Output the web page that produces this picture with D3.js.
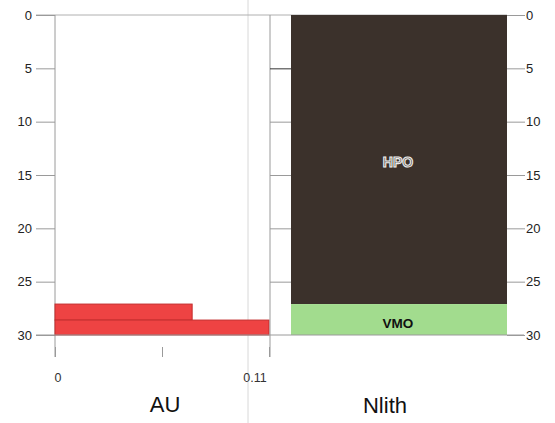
<!DOCTYPE html>
<html><head><meta charset="utf-8">
<script src="https://cdn.jsdelivr.net/npm/d3@7"></script>
<style>body{margin:0;background:#fff}svg{display:block}</style>
</head><body>
<script>
// Data
const depthTicks = [0, 5, 10, 15, 20, 25, 30];
const auTickLabels = ["0", "0.11"];
const auTicks = [0, 0.055, 0.11];
// AU bars: depth intervals and values
const auTop = [27.1, 28.6];
const auBottom = [28.6, 30];
const auValue = [0.0705, 0.11];
// Lithology intervals
const lithNames = ["HPO", "VMO"];
const lithTop = [0, 27.1];
const lithBottom = [27.1, 30];
const lithColors = ["#3b312b", "#a2dc8e"];

const W = 555, H = 423;
const svg = d3.select("body").append("svg").attr("width", W).attr("height", H);

const y = d3.scaleLinear().domain([0, 30]).range([15, 335]);
const xAU = d3.scaleLinear().domain([0, 0.11]).range([55, 269]);
const xL0 = 291, xL1 = 507;

const grey = "#9a9a9a";
// scanning artifact line
svg.append("line").attr("x1", 248).attr("x2", 248).attr("y1", 0).attr("y2", H)
  .attr("stroke", "#d8d8d8").attr("stroke-width", 1);

// top frame line
svg.append("line").attr("x1", 36).attr("x2", xL1).attr("y1", y(0)).attr("y2", y(0))
  .attr("stroke", "#b0b0b0");
// left axis
const gL = svg.append("g").attr("transform", "translate(55,0)")
  .call(d3.axisLeft(y).tickValues(depthTicks).tickSize(19).tickFormat(d3.format("d")));
gL.select(".domain").remove();
gL.selectAll(".tick line").attr("stroke", grey);
gL.selectAll(".tick text").attr("font-family", "Arial, Liberation Sans, sans-serif")
  .attr("font-size", 13).attr("fill", "#222").attr("dx", -1);
svg.append("line").attr("x1", 55).attr("x2", 55).attr("y1", y(0)).attr("y2", 357)
  .attr("stroke", grey);

// AU bars
svg.selectAll("rect.au").data(auValue).enter().append("rect").attr("class", "au")
  .attr("x", xAU(0)).attr("y", (d, i) => y(auTop[i]))
  .attr("width", d => xAU(d) - xAU(0))
  .attr("height", (d, i) => y(auBottom[i]) - y(auTop[i]))
  .attr("fill", "#ee4343").attr("stroke", "#c42e2e").attr("stroke-width", 1);

// AU bottom axis ticks
const gB = svg.append("g").attr("transform", "translate(0,357)")
  .call(d3.axisTop(xAU).tickValues(auTicks).tickSize(10).tickFormat(""));
gB.select(".domain").remove();
gB.selectAll(".tick line").attr("stroke", grey);
svg.selectAll("text.aul").data(auTickLabels).enter().append("text").attr("class", "aul")
  .attr("x", (d, i) => xAU([0, 0.11][i]) + (i === 0 ? 3 : -14))
  .attr("y", 382).attr("text-anchor", "middle")
  .attr("font-family", "Arial, Liberation Sans, sans-serif").attr("font-size", 12.5).attr("fill", "#333")
  .text(d => d);

// separator line between panels
svg.append("line").attr("x1", 270).attr("x2", 270).attr("y1", y(0)).attr("y2", 357)
  .attr("stroke", grey);
// lith panel left ticks
const gM = svg.append("g").attr("transform", "translate(" + xL0 + ",0)")
  .call(d3.axisLeft(y).tickValues(depthTicks.slice(1, 6)).tickSize(21).tickFormat(""));
gM.select(".domain").remove();
gM.selectAll(".tick line").attr("stroke", (d) => d === 5 ? "#333" : grey);

// lithology
svg.selectAll("rect.lith").data(lithNames).enter().append("rect").attr("class", "lith")
  .attr("x", xL0).attr("y", (d, i) => y(lithTop[i]))
  .attr("width", xL1 - xL0).attr("height", (d, i) => y(lithBottom[i]) - y(lithTop[i]))
  .attr("fill", (d, i) => lithColors[i]);
svg.selectAll("text.lith").data(lithNames).enter().append("text").attr("class", "lith")
  .attr("x", (xL0 + xL1) / 2 - 1)
  .attr("y", (d, i) => i === 0 ? 167 : 328)
  .attr("text-anchor", "middle")
  .attr("font-family", "Arial, Liberation Sans, sans-serif").attr("font-weight", "bold")
  .attr("font-size", (d, i) => i === 0 ? 14 : 13.5)
  .attr("fill", (d, i) => i === 0 ? "#5a524c" : "#111")
  .attr("stroke", (d, i) => i === 0 ? "#eeeeee" : "none").attr("stroke-width", 1.1)
  .text(d => d);

// bottom line
svg.append("line").attr("x1", 36).attr("x2", 524).attr("y1", y(30)).attr("y2", y(30))
  .attr("stroke", grey);

// right axis
const gR = svg.append("g").attr("transform", "translate(" + xL1 + ",0)")
  .call(d3.axisRight(y).tickValues(depthTicks).tickSize(18).tickFormat(d3.format("d")));
gR.select(".domain").remove();
gR.selectAll(".tick line").attr("stroke", grey);
gR.selectAll(".tick text").attr("font-family", "Arial, Liberation Sans, sans-serif")
  .attr("font-size", 13).attr("fill", "#222").attr("dx", -2);

// titles
svg.append("text").attr("x", 165).attr("y", 412).attr("text-anchor", "middle")
  .attr("font-family", "Arial, Liberation Sans, sans-serif").attr("font-size", 22).attr("fill", "#111")
  .text("AU");
svg.append("text").attr("x", 385).attr("y", 413).attr("text-anchor", "middle")
  .attr("font-family", "Arial, Liberation Sans, sans-serif").attr("font-size", 22).attr("fill", "#111")
  .text("Nlith");
</script>
</body></html>
